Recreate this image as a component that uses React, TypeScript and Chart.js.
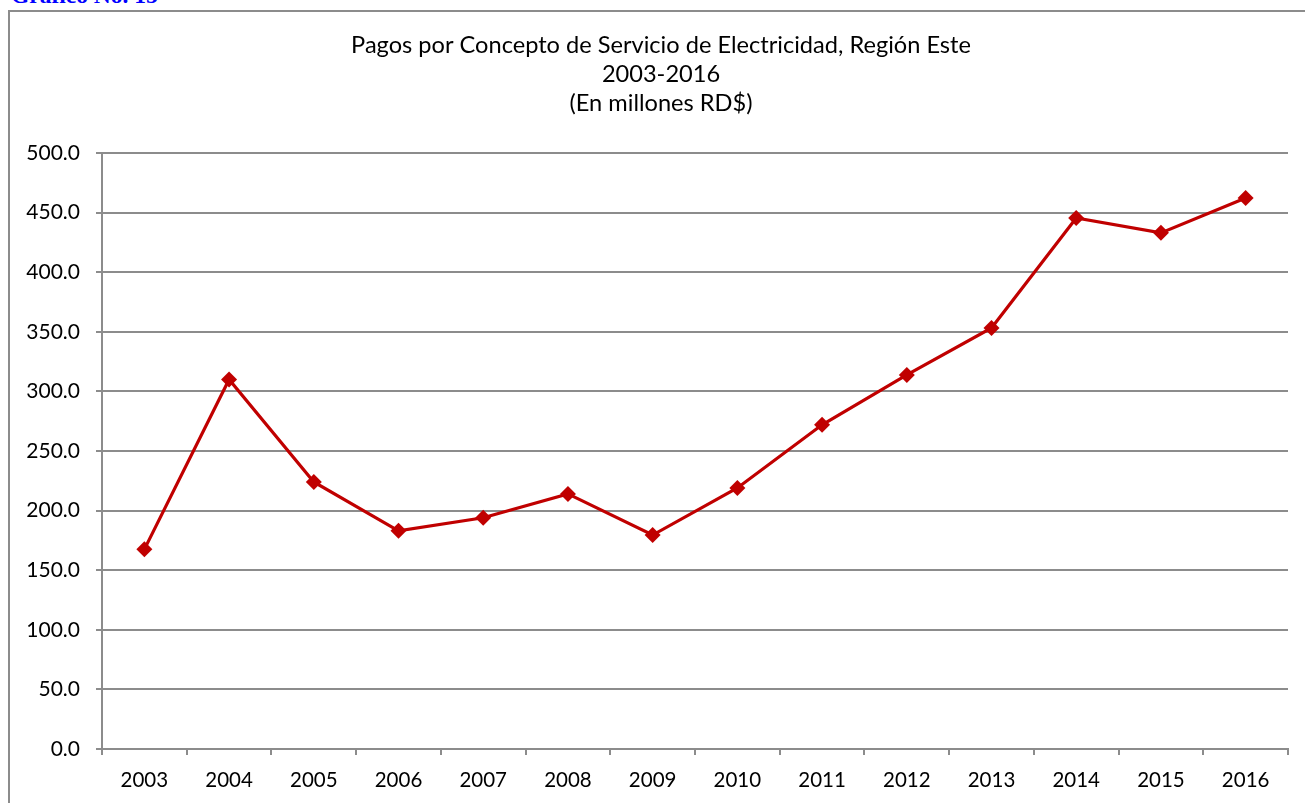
import React, { useEffect, useRef } from "react";
import { Chart, registerables } from "chart.js";

Chart.register(...registerables);

const years = ["2003", "2004", "2005", "2006", "2007", "2008", "2009", "2010", "2011", "2012", "2013", "2014", "2015", "2016"];
const pagos = [167.5, 310.0, 224.0, 183.0, 194.0, 214.0, 179.5, 219.0, 272.0, 313.8, 353.2, 445.5, 433.0, 462.2];
const titleLines = ["Pagos por Concepto de Servicio de Electricidad, Región Este", "2003-2016", "(En millones RD$)"];
const caption = "Gráfico No. 15";

const FONT = "Lato, 'Open Sans', sans-serif";
const GRID = "#8c8c8c";

const centeredTitle = {
  id: "centeredTitle",
  afterDraw(chart: any) {
    const ctx = chart.ctx;
    ctx.save();
    ctx.fillStyle = "#000";
    ctx.font = `23.6px ${FONT}`;
    ctx.textAlign = "center";
    ctx.textBaseline = "middle";
    const cx = chart.width / 2 + 1;
    titleLines.forEach((line, i) => {
      ctx.fillText(line, cx, 33 + i * 29);
    });
    ctx.restore();
  },
};

export default function App() {
  const ref = useRef<HTMLCanvasElement | null>(null);
  useEffect(() => {
    if (!ref.current) return;
    const chart = new Chart(ref.current, {
      type: "line",
      data: {
        labels: years,
        datasets: [
          {
            data: pagos,
            borderColor: "#C00000",
            backgroundColor: "#C00000",
            borderWidth: 3.2,
            pointStyle: "rectRot",
            pointRadius: 8,
            pointBorderWidth: 0,
            tension: 0,
          },
        ],
      },
      options: {
        animation: false,
        responsive: false,
        devicePixelRatio: 1,
        layout: { padding: { left: 0, right: 22, top: 141, bottom: 0 } },
        plugins: {
          legend: { display: false },
          tooltip: { enabled: false },
          title: { display: false },
        },
        scales: {
          x: {
            offset: true,
            grid: { offset: true, drawOnChartArea: false, drawTicks: true, tickLength: 6, color: GRID, lineWidth: 2 },
            border: { display: true, color: GRID, width: 2 },
            ticks: { color: "#000", font: { family: FONT, size: 20.5 }, padding: 13, maxRotation: 0 },
            afterFit: (s: any) => {
              s.height = 54;
            },
          },
          y: {
            min: 0,
            max: 500,
            grid: { color: GRID, lineWidth: 2, tickLength: 6 },
            border: { display: true, color: GRID, width: 2 },
            ticks: {
              stepSize: 50,
              color: "#000",
              font: { family: FONT, size: 21 },
              padding: 16,
              callback: (v: any) => Number(v).toFixed(1),
            },
            afterFit: (s: any) => {
              s.width = 92;
            },
          },
        },
      },
      plugins: [centeredTitle],
    });
    return () => chart.destroy();
  }, []);

  return (
    <div style={{ position: "absolute", left: 0, top: 0, width: 1305, height: 803, overflow: "hidden", background: "#fff" }}>
      <div
        style={{
          position: "absolute",
          left: 11,
          top: -15.7,
          fontFamily: "'Liberation Serif', 'Times New Roman', serif",
          fontWeight: "bold",
          fontSize: 23.5,
          lineHeight: "23.5px",
          color: "#0000FF",
          whiteSpace: "nowrap",
        }}
      >
        {caption}
      </div>
      <div
        style={{
          position: "absolute",
          left: 8,
          top: 10,
          width: 1300,
          height: 800,
          border: "2px solid #8c8c8c",
          background: "#fff",
        }}
      >
        <canvas ref={ref} width={1300} height={791} style={{ display: "block", width: 1300, height: 791 }} />
      </div>
    </div>
  );
}
